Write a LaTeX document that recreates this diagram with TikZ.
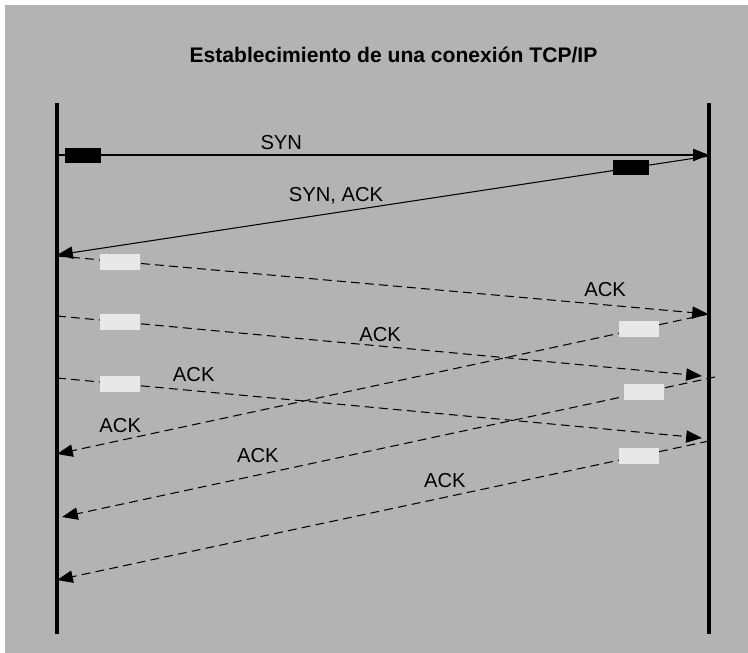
\documentclass[tikz,border=0pt]{standalone}
\usepackage{fontspec}
\setmainfont{Liberation Sans}
\usetikzlibrary{arrows.meta}
\definecolor{bggray}{RGB}{179,179,179}
\definecolor{pktwhite}{RGB}{232,232,232}

\begin{document}
\begin{tikzpicture}[x=0.02cm,y=-0.02cm]
    \tikzstyle{life} = [line width=2pt]
    \tikzstyle{msg} = [line width=0.6pt,-{Triangle[length=9pt,width=7pt]}]
    \tikzstyle{ack} = [msg,dash pattern=on 5pt off 3pt]
    \tikzstyle{lbl} = [font=\fontsize{11.5}{13}\selectfont,inner sep=0pt]
    \tikzstyle{synpkt} = [fill=black,minimum width=0.72cm,minimum height=0.3cm,inner sep=0pt]
    \tikzstyle{ackpkt} = [fill=pktwhite,minimum width=0.79cm,minimum height=0.32cm,inner sep=0pt]
    \useasboundingbox (0,0) rectangle (748,653);
    \fill [bggray] (5,5) rectangle (748,653);
    \node [font=\bfseries\fontsize{12}{14}\selectfont,anchor=base] (title) at (393.5,62) {Establecimiento de una conexión TCP/IP};
    % lifelines
    \coordinate (ltop) at (57,103);
    \coordinate (lbot) at (57,634);
    \coordinate (rtop) at (709,103);
    \coordinate (rbot) at (709,634);
    \draw [life] (ltop) -- (lbot);
    \draw [life] (rtop) -- (rbot);
    % points on the left side
    \coordinate (l1) at (57,155);
    \coordinate (l2) at (57,255);
    \coordinate (l3) at (57,256);
    \coordinate (l4) at (57,316);
    \coordinate (l5) at (57,378);
    \coordinate (l6) at (57,454);
    \coordinate (l7) at (62,517);
    \coordinate (l8) at (57,580);
    % points on the right side
    \coordinate (r1) at (709,155);
    \coordinate (r2) at (709,156);
    \coordinate (r3) at (708,314);
    \coordinate (r4) at (709,314);
    \coordinate (r5) at (702,376);
    \coordinate (r6) at (715,377);
    \coordinate (r7) at (702,438);
    \coordinate (r8) at (709,441);
    % handshake
    \draw [msg] (l1) -- node [synpkt,pos=0.04] {} node [lbl,pos=0.344,above=2.8pt] {SYN} (r1);
    \draw [msg] (r2) -- node [synpkt,pos=0.12] {} node [lbl,pos=0.572,above=4.3pt] {SYN, ACK} (l2);
    % acks from the left
    \draw [ack] (l3) -- node [ackpkt,pos=0.097] {} node [lbl,pos=0.842,above=4.4pt] {ACK} (r3);
    \draw [ack] (l4) -- node [ackpkt,pos=0.098] {} node [lbl,pos=0.501,above=2.3pt] {ACK} (r5);
    \draw [ack] (l5) -- node [ackpkt,pos=0.098] {} node [lbl,pos=0.212,above=4.9pt] {ACK} (r7);
    % acks from the right
    \draw [ack] (r4) -- node [ackpkt,pos=0.107] {} node [lbl,pos=0.903,above=4.2pt] {ACK} (l6);
    \draw [ack] (r6) -- node [ackpkt,pos=0.109] {} node [lbl,pos=0.700,above=6.8pt] {ACK} (l7);
    \draw [ack] (r8) -- node [ackpkt,pos=0.107] {} node [lbl,pos=0.405,above=5.3pt] {ACK} (l8);
\end{tikzpicture}
\end{document}
